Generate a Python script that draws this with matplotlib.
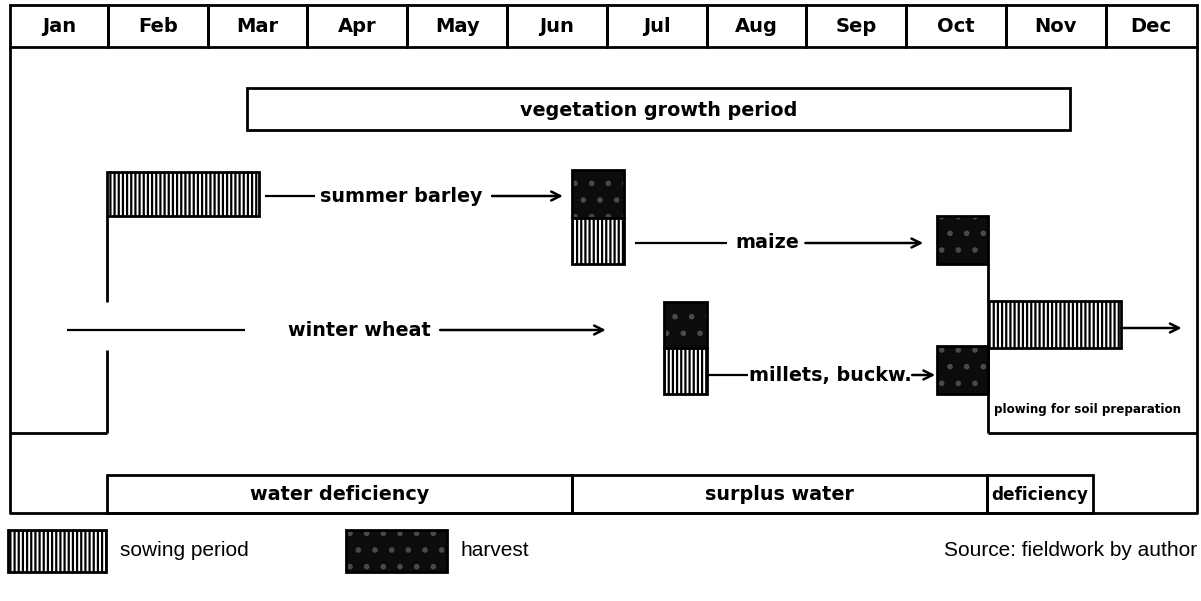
import matplotlib
matplotlib.use('Agg')
import matplotlib.pyplot as plt
from matplotlib.patches import Rectangle

# time axis in months: 0 = start of Jan, 12 = end of Dec
months = ['Jan', 'Feb', 'Mar', 'Apr', 'May', 'Jun',
          'Jul', 'Aug', 'Sep', 'Oct', 'Nov', 'Dec']
chart_start, chart_end = 0.02, 11.91

growth_period = (2.39, 10.64)

barley_sow = (0.99, 2.52)
barley_harvest = (5.65, 6.17)
maize_sow = (5.65, 6.17)
maize_harvest = (9.31, 9.82)
wheat_harvest = (6.57, 7.00)
millet_sow = (6.57, 7.00)
millet_harvest = (9.31, 9.82)
wheat_sow = (9.82, 11.15)

# label positions and connecting lines / arrows (months)
barley_label = 3.94
barley_lead = (2.58, 3.08)
barley_arrow = (4.85, 5.56)
maize_label = 7.61
maize_lead = (6.28, 7.20)
maize_arrow = (7.99, 9.17)
wheat_label = 3.52
wheat_lead = (0.59, 2.37)
wheat_arrow = (4.33, 5.99)
millet_label = 8.24
millet_lead = (7.00, 7.41)
millet_arrow = (9.06, 9.29)
plow_arrow = (11.15, 11.76)

water_labels = ['water deficiency', 'surplus water', 'deficiency']
water_edges = [0.99, 5.65, 9.81, 10.87]
water_sizes = [13.8, 13.8, 12.2]

BOLD = dict(family='DejaVu Sans', fontweight='bold', color='black')
plt.rcParams['hatch.linewidth'] = 1.6

fig = plt.figure(figsize=(12.01, 6.01), dpi=100)
ax = fig.add_axes([0, 0, 1, 1])
ax.set_xlim(-8 / 99.8, (1201 - 8) / 99.8)
ax.set_ylim(601, 0)
ax.axis('off')

LW = 2.0


def sowing(x0, x1, y0, y1, a=ax):
    a.add_patch(Rectangle((x0, y0), x1 - x0, y1 - y0, facecolor='white',
                          edgecolor='black', hatch='||||', lw=0))
    a.add_patch(Rectangle((x0, y0), x1 - x0, y1 - y0, fill=False,
                          edgecolor='black', lw=LW))


def harvest(x0, x1, y0, y1, a=ax):
    a.add_patch(Rectangle((x0, y0), x1 - x0, y1 - y0, facecolor='#0c0c0c',
                          edgecolor='#4a4a4a', hatch='.', lw=0))
    a.add_patch(Rectangle((x0, y0), x1 - x0, y1 - y0, fill=False,
                          edgecolor='black', lw=LW))


def hline(x0, x1, y, lw=LW):
    ax.plot([x0, x1], [y, y], color='black', lw=lw, solid_capstyle='butt')


def vline(x, y0, y1):
    ax.plot([x, x], [y0, y1], color='black', lw=LW, solid_capstyle='butt')


def arrow(x0, x1, y):
    ax.annotate('', xy=(x1, y), xytext=(x0, y),
                arrowprops=dict(arrowstyle='->', lw=1.8, color='black',
                                shrinkA=0, shrinkB=0, mutation_scale=16))


# month header
for i, m in enumerate(months):
    x0 = max(i, chart_start)
    x1 = min(i + 1, chart_end)
    ax.add_patch(Rectangle((x0, 5), x1 - x0, 42, fill=False,
                           edgecolor='black', lw=LW))
    ax.text((x0 + x1) / 2, 27, m, ha='center', va='center', fontsize=14, **BOLD)

# outer frame
ax.plot([chart_start, chart_start, chart_end, chart_end], [47, 513, 513, 47],
        color='black', lw=LW)

# vegetation growth period
ax.add_patch(Rectangle((growth_period[0], 88), growth_period[1] - growth_period[0], 42,
                       fill=False, edgecolor='black', lw=LW))
ax.text(sum(growth_period) / 2, 110, 'vegetation growth period',
        ha='center', va='center', fontsize=13.8, **BOLD)

# summer barley
sowing(barley_sow[0], barley_sow[1], 172, 216)
hline(*barley_lead, 196, lw=1.6)
ax.text(barley_label, 196, 'summer barley', ha='center', va='center', fontsize=13.8, **BOLD)
arrow(*barley_arrow, 196)
harvest(barley_harvest[0], barley_harvest[1], 170, 218)
sowing(maize_sow[0], maize_sow[1], 218, 264)

# maize
hline(*maize_lead, 243, lw=1.6)
ax.text(maize_label, 243, 'maize', ha='center', va='center', fontsize=13.8, **BOLD)
arrow(*maize_arrow, 243)
harvest(maize_harvest[0], maize_harvest[1], 216, 264)

# winter wheat
hline(*wheat_lead, 330, lw=1.6)
ax.text(wheat_label, 330, 'winter wheat', ha='center', va='center', fontsize=13.8, **BOLD)
arrow(*wheat_arrow, 330)
harvest(wheat_harvest[0], wheat_harvest[1], 302, 348)
sowing(millet_sow[0], millet_sow[1], 348, 394)

# millets, buckwheat
hline(*millet_lead, 375, lw=1.6)
ax.text(millet_label, 375, 'millets, buckw.', ha='center', va='center', fontsize=13.8, **BOLD)
arrow(*millet_arrow, 375)
harvest(millet_harvest[0], millet_harvest[1], 346, 394)

# plowing / winter wheat sowing
sowing(wheat_sow[0], wheat_sow[1], 301, 348)
arrow(*plow_arrow, 328)
ax.text(wheat_sow[0] + 0.06, 410, 'plowing for soil preparation', ha='left',
        va='center', fontsize=8.6, **BOLD)

# connecting lines
vline(barley_sow[0], 216, 302)
vline(barley_sow[0], 350, 433)
hline(chart_start, barley_sow[0], 433)
vline(maize_harvest[1], 264, 301)
vline(millet_harvest[1], 346, 433)
hline(millet_harvest[1], chart_end, 433)

# water balance
for i, lab in enumerate(water_labels):
    x0, x1 = water_edges[i], water_edges[i + 1]
    ax.add_patch(Rectangle((x0, 475), x1 - x0, 38, fill=False,
                           edgecolor='black', lw=LW))
    ax.text((x0 + x1) / 2, 495, lab, ha='center', va='center',
            fontsize=water_sizes[i], **BOLD)

# legend and source in pixel coordinates
lax = fig.add_axes([0, 0, 1, 1])
lax.set_xlim(0, 1201)
lax.set_ylim(601, 0)
lax.axis('off')
sowing(8, 106, 530, 572, a=lax)
lax.text(120, 551, 'sowing period', ha='left', va='center', fontsize=15,
         family='Liberation Sans')
harvest(346, 447, 530, 572, a=lax)
lax.text(461, 551, 'harvest', ha='left', va='center', fontsize=15,
         family='Liberation Sans')
lax.text(1197, 551, 'Source: fieldwork by author', ha='right', va='center',
         fontsize=15, family='Liberation Sans')

fig.savefig('out.png', dpi=100)
